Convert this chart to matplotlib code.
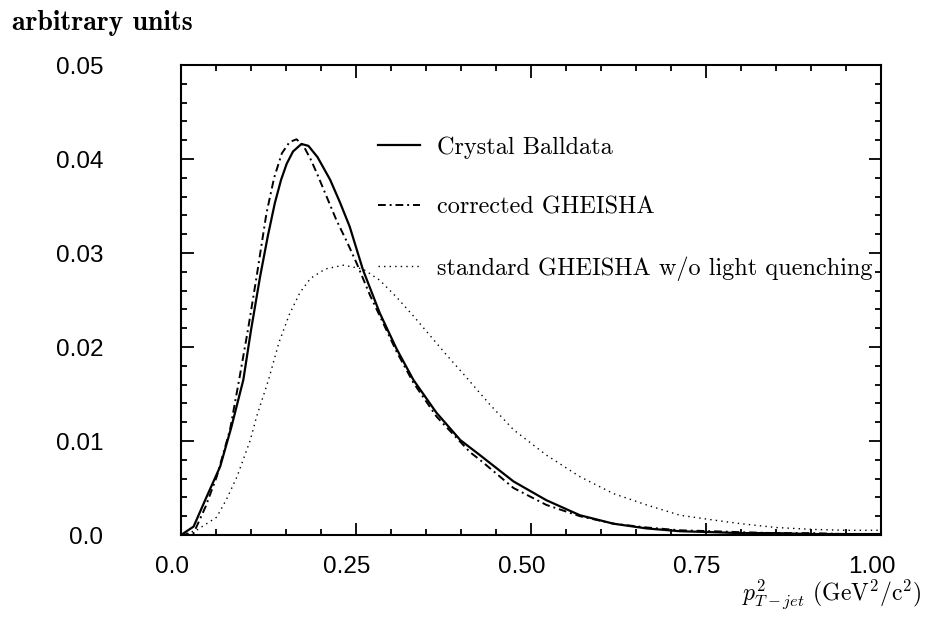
import numpy as np
import matplotlib
matplotlib.use('Agg')
from matplotlib import pyplot as plt
from matplotlib.ticker import MultipleLocator, FixedFormatter, FixedLocator
from matplotlib.transforms import ScaledTranslation

plt.rcParams['mathtext.fontset'] = 'cm'

# Crystal Ball data
x_cb = [0.000, 0.018, 0.035, 0.056, 0.072, 0.089, 0.100, 0.113, 0.124, 0.134,
        0.143, 0.151, 0.160, 0.172, 0.182, 0.195, 0.213, 0.227, 0.241, 0.260,
        0.284, 0.308, 0.332, 0.365, 0.399, 0.427, 0.475, 0.522, 0.570, 0.618,
        0.665, 0.713, 0.760, 0.800, 0.850, 0.900, 0.950, 1.000]
y_cb = [0.0000, 0.0009, 0.0038, 0.0073, 0.0115, 0.0165, 0.0218, 0.0275, 0.0318, 0.0353,
        0.0378, 0.0395, 0.0408, 0.0416, 0.0414, 0.0402, 0.0378, 0.0354, 0.0328, 0.0282,
        0.0236, 0.0198, 0.0165, 0.0130, 0.0101, 0.0085, 0.0057, 0.0037, 0.0021, 0.0012,
        0.0007, 0.0004, 0.0003, 0.0002, 0.0002, 0.0001, 0.0001, 0.0001]

# corrected GHEISHA
x_corr = [0.000, 0.018, 0.035, 0.051, 0.070, 0.083, 0.096, 0.108, 0.122, 0.133,
          0.144, 0.155, 0.165, 0.175, 0.185, 0.194, 0.208, 0.222, 0.237, 0.251,
          0.270, 0.284, 0.308, 0.332, 0.365, 0.413, 0.427, 0.475, 0.522, 0.570,
          0.618, 0.665, 0.713, 0.760, 0.800, 0.850, 0.900, 0.950, 1.000]
y_corr = [0.0000, 0.0002, 0.0030, 0.0062, 0.0112, 0.0165, 0.0220, 0.0275, 0.0342, 0.0380,
          0.0406, 0.0418, 0.0421, 0.0414, 0.0400, 0.0385, 0.0360, 0.0335, 0.0312, 0.0289,
          0.0255, 0.0233, 0.0195, 0.0162, 0.0126, 0.0088, 0.0080, 0.0050, 0.0032, 0.0020,
          0.0012, 0.0008, 0.0005, 0.0004, 0.0003, 0.0002, 0.0002, 0.0001, 0.0001]

# standard GHEISHA, no light quenching
x_std = [0.000, 0.022, 0.051, 0.065, 0.080, 0.099, 0.108, 0.125, 0.140, 0.155,
         0.170, 0.185, 0.206, 0.232, 0.260, 0.284, 0.308, 0.332, 0.356, 0.380,
         0.405, 0.427, 0.441, 0.475, 0.522, 0.570, 0.618, 0.665, 0.713, 0.760,
         0.800, 0.850, 0.900, 0.950, 1.000]
y_std = [0.0000, 0.0005, 0.0019, 0.0038, 0.0062, 0.0101, 0.0126, 0.0165, 0.0205, 0.0235,
         0.0258, 0.0273, 0.0283, 0.0287, 0.0283, 0.0271, 0.0253, 0.0233, 0.0212, 0.0191,
         0.0170, 0.0151, 0.0139, 0.0112, 0.0085, 0.0062, 0.0044, 0.0032, 0.0021, 0.0016,
         0.0012, 0.0008, 0.0006, 0.0005, 0.0005]

labels = ['Crystal Balldata', 'corrected GHEISHA',
          'standard GHEISHA w/o light quenching']
xticks = [0.0, 0.25, 0.50, 0.75, 1.00]
xticklabels = ['0.0', '0.25', '0.50', '0.75', '1.00']
yticks = [0.0, 0.01, 0.02, 0.03, 0.04, 0.05]
yticklabels = ['0.0', '0.01', '0.02', '0.03', '0.04', '0.05']

fig = plt.figure(figsize=(9.25, 6.18), dpi=100)
ax = fig.add_axes([0.1957, 0.1343, 0.7567, 0.7605])

l1, = ax.plot(x_cb, y_cb, color='black', lw=1.6, ls='-')
l2, = ax.plot(x_corr, y_corr, color='black', lw=1.4, ls=(0, (4, 2, 1, 2)))
l3, = ax.plot(x_std, y_std, color='black', lw=1.0, ls=(0, (1, 3)))

ax.set_xlim(0, 1.0)
ax.set_ylim(0, 0.05)
ax.xaxis.set_major_locator(FixedLocator(xticks))
ax.xaxis.set_major_formatter(FixedFormatter(xticklabels))
ax.xaxis.set_minor_locator(MultipleLocator(0.05))
ax.yaxis.set_major_locator(FixedLocator(yticks))
ax.yaxis.set_major_formatter(FixedFormatter(yticklabels))
ax.yaxis.set_minor_locator(MultipleLocator(0.002))
ax.tick_params(which='both', direction='in', top=True, right=True, width=1.3)
ax.tick_params(which='major', length=9)
ax.tick_params(which='minor', length=4.5)
ax.tick_params(axis='y', which='major', pad=56)
ax.tick_params(axis='x', which='major', pad=15)
for sp in ax.spines.values():
    sp.set_linewidth(1.5)

for lab in ax.get_xticklabels() + ax.get_yticklabels():
    lab.set_fontfamily('Liberation Sans')
    lab.set_fontsize(17.5)
# x labels sit a bit left of their ticks
shift = ScaledTranslation(-9 / 100, 0, fig.dpi_scale_trans)
for lab in ax.get_xticklabels():
    lab.set_transform(lab.get_transform() + shift)

leg = ax.legend([l1, l2, l3], labels, loc='upper left', bbox_to_anchor=(0.281, 0.848),
                frameon=False, handlelength=1.75, handletextpad=0.7, labelspacing=1.55,
                borderaxespad=0, borderpad=0, prop={'family': 'cmr10', 'size': 17.5})

fig.text(12 / 925, 1 - 30 / 618, 'arbitrary units', fontfamily='cmb10', fontsize=20,
         ha='left', va='baseline')
fig.text(921 / 925, 1 - 600 / 618, r'$p^2_{T-jet}$ (GeV$^2$/c$^2$)', fontfamily='cmr10',
         fontsize=17, ha='right', va='baseline')

fig.savefig('out.png', dpi=100)
